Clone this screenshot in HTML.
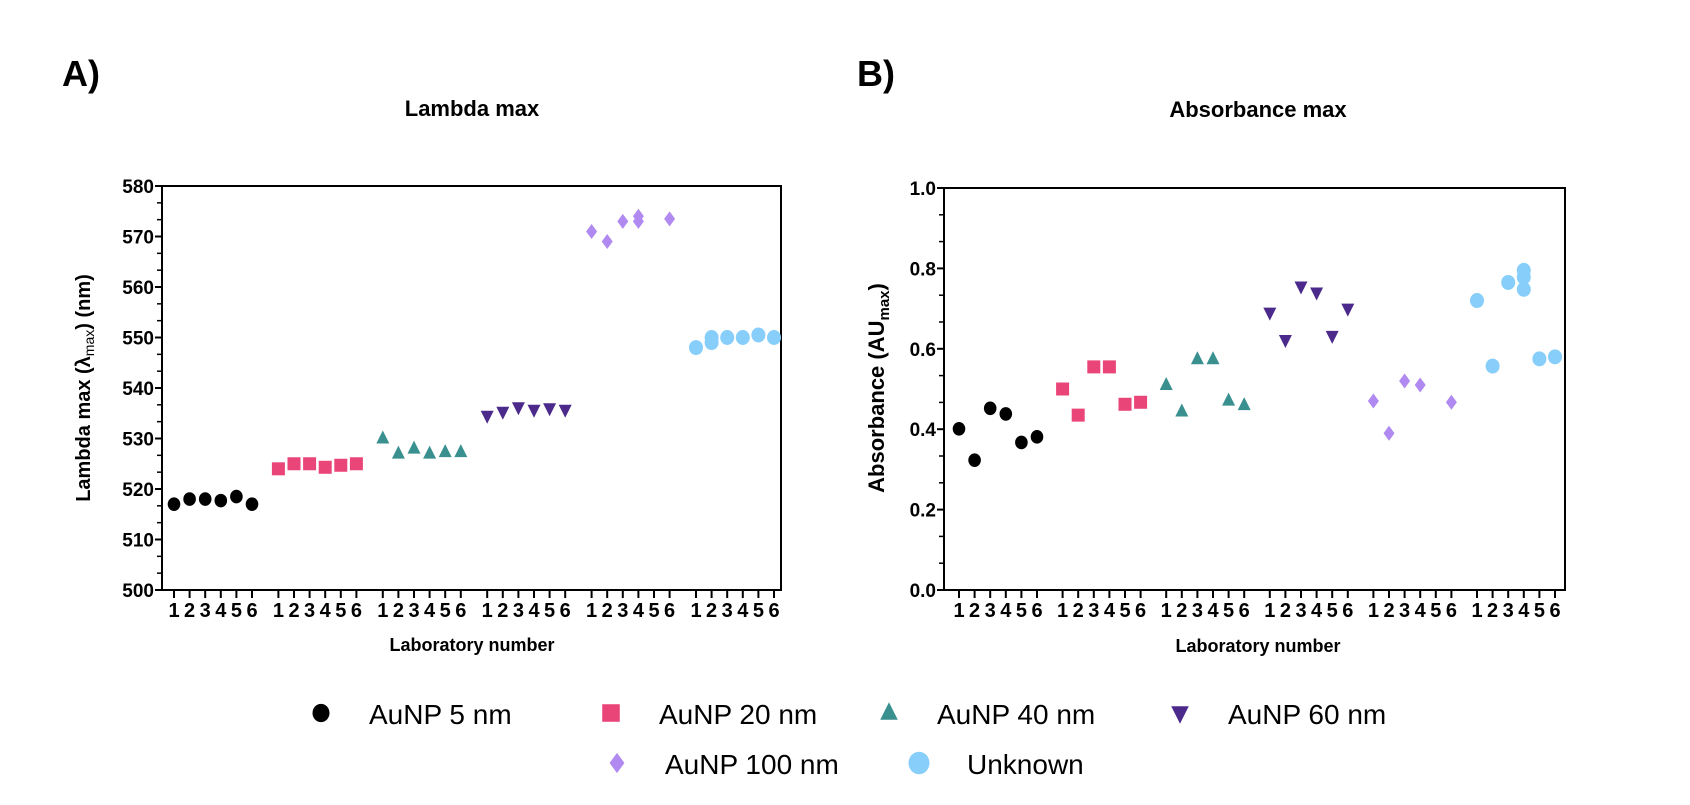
<!DOCTYPE html>
<html><head><meta charset="utf-8"><style>
html,body{margin:0;padding:0;background:#fff;}
svg{display:block;font-family:"Liberation Sans",Arial,sans-serif;}
</style></head><body>
<svg id="fig" width="1690" height="805" viewBox="0 0 1690 805">
<text x="62" y="86" font-size="36" font-weight="bold">A)</text>
<text x="857" y="86" font-size="36" font-weight="bold">B)</text>
<text x="472" y="116" font-size="22" font-weight="bold" text-anchor="middle">Lambda max</text>
<text x="1258" y="117" font-size="22" font-weight="bold" text-anchor="middle">Absorbance max</text>
<text x="472" y="651" font-size="18" font-weight="bold" text-anchor="middle">Laboratory number</text>
<text x="1258" y="652" font-size="18" font-weight="bold" text-anchor="middle">Laboratory number</text>
<text transform="translate(90,388) rotate(-90)" font-size="20" font-weight="bold" text-anchor="middle">Lambda max (λ<tspan font-size="14" font-weight="normal" dy="4">max</tspan><tspan dy="-4">) (nm)</tspan></text>
<text transform="translate(884,388) rotate(-90)" font-size="22" font-weight="bold" text-anchor="middle">Absorbance (AU<tspan font-size="15" dy="5">max</tspan><tspan dy="-5">)</tspan></text>
<g id="plots"></g>
<g id="legend"></g>
</svg>
<script>
const groups = ["AuNP 5 nm","AuNP 20 nm","AuNP 40 nm","AuNP 60 nm","AuNP 100 nm","Unknown"];
const labLabels = ["1","2","3","4","5","6"];
// lambda max values per group: [lab, value]
const lam5 = [[1,517],[2,518],[3,518],[4,517.7],[5,518.5],[6,517]];
const lam20 = [[1,524],[2,525],[3,525],[4,524.3],[5,524.7],[6,525]];
const lam40 = [[1,530],[2,527],[3,528],[4,527],[5,527.3],[6,527.3]];
const lam60 = [[1,534.5],[2,535.3],[3,536.2],[4,535.7],[5,536],[6,535.7]];
const lam100 = [[1,571],[2,569],[3,573],[4,574],[4,573],[6,573.5]];
const lamUnk = [[1,548],[2,550],[2,549],[3,550],[4,550],[5,550.5],[6,550]];
// absorbance values
const abs5 = [[1,0.401],[2,0.323],[3,0.452],[4,0.438],[5,0.367],[6,0.381]];
const abs20 = [[1,0.50],[2,0.435],[3,0.555],[4,0.555],[5,0.462],[6,0.467]];
const abs40 = [[1,0.51],[2,0.444],[3,0.574],[4,0.574],[5,0.471],[6,0.46]];
const abs60 = [[1,0.69],[2,0.622],[3,0.755],[4,0.74],[5,0.632],[6,0.70]];
const abs100 = [[1,0.47],[2,0.39],[3,0.52],[4,0.51],[6,0.467]];
const absUnk = [[1,0.72],[2,0.557],[3,0.765],[4,0.795],[4,0.778],[4,0.748],[5,0.575],[6,0.58]];
const lamTicks = [500,510,520,530,540,550,560,570,580];
const absTicks = [0.0,0.2,0.4,0.6,0.8,1.0];

const colors=["#000000","#ea4579","#3a8f8f","#4b2a8c","#b08af0","#87cefa"];
const shapes=["circle","square","triangle","invtri","diamond","bigcircle"];
const NS="http://www.w3.org/2000/svg";
function mk(tag,attrs,parent){const e=document.createElementNS(NS,tag);for(const k in attrs)e.setAttribute(k,attrs[k]);parent.appendChild(e);return e;}
function marker(parent,shape,x,y,c,s){
  let e;
  if(shape==="circle") e=mk("ellipse",{cx:x,cy:y,rx:6.3*s,ry:6.8*s,fill:c},parent);
  else if(shape==="bigcircle") e=mk("ellipse",{cx:x,cy:y,rx:7*s,ry:7.5*s,fill:c},parent);
  else if(shape==="square") e=mk("rect",{x:x-6.5*s,y:y-6.5*s,width:13*s,height:13*s,fill:c},parent);
  else if(shape==="triangle") e=mk("polygon",{points:`${x},${y-8*s} ${x+6.5*s},${y+5*s} ${x-6.5*s},${y+5*s}`,fill:c},parent);
  else if(shape==="invtri") e=mk("polygon",{points:`${x},${y+8*s} ${x+6.5*s},${y-5*s} ${x-6.5*s},${y-5*s}`,fill:c},parent);
  else e=mk("polygon",{points:`${x},${y-7.5*s} ${x+5.5*s},${y} ${x},${y+7.5*s} ${x-5.5*s},${y}`,fill:c},parent);
  return e;
}
const plots=document.getElementById("plots");
function chart(cfg){
  const g=mk("g",{},plots);
  
  
  const {L,R,T,B,min,max}=cfg;
  const ys=v=>B-(v-min)/(max-min)*(B-T);
  const xs=(gi,lab)=>cfg.x0+gi*cfg.gs+(lab-1)*cfg.ls;
  const frame=mk("rect",{x:L,y:T,width:R-L,height:B-T,fill:"none",stroke:"#000","stroke-width":2},g);
  
  
  const ticks=cfg.ticks;
  const step=ticks[1]-ticks[0];
  ticks.forEach((t,i)=>{
    const y=ys(t);
    mk("line",{x1:L-7,x2:L,y1:y,y2:y,stroke:"#000","stroke-width":2},g);
    const tx=mk("text",{x:L-8,y:y+7,"font-size":19,"font-weight":"bold","text-anchor":"end"},g);
    tx.textContent=cfg.fmt(t);
    
    
    if(i<ticks.length-1){for(let k=1;k<3;k++){const ym=ys(t+step*k/3);mk("line",{x1:L-5,x2:L,y1:ym,y2:ym,stroke:"#000","stroke-width":1.5},g);}}
  });
  groups.forEach((gn,gi)=>{
    labLabels.forEach((lb,li)=>{
      const x=xs(gi,li+1);
      mk("line",{x1:x,x2:x,y1:B,y2:B+8,stroke:"#000","stroke-width":2},g);
      const tx=mk("text",{x:x,y:B+27,"font-size":20,"font-weight":"bold","text-anchor":"middle"},g);
      tx.textContent=lb;
      
      
    });
  });
  cfg.series.forEach((ser,gi)=>{
    ser.forEach(([lab,v])=>{
      const m=marker(g,shapes[gi],xs(gi,lab),ys(v),colors[gi],1);
      
      
    });
  });
}
chart({name:"chart-lambda-max",L:162,R:781,T:186,B:590,min:500,max:580,ticks:lamTicks,fmt:t=>String(t),
  x0:174,gs:104.4,ls:15.6,series:[lam5,lam20,lam40,lam60,lam100,lamUnk]});
chart({name:"chart-absorbance-max",L:944,R:1565,T:188,B:590,min:0,max:1,ticks:absTicks,fmt:t=>t.toFixed(1),
  x0:959,gs:103.6,ls:15.6,series:[abs5,abs20,abs40,abs60,abs100,absUnk]});

const leg=document.getElementById("legend");
const legPos=[[321,715],[611,715],[889,715],[1180,715],[617,765],[919,765]];
groups.forEach((gn,i)=>{
  const [x,y]=legPos[i];
  const s = i===5?1.5:1.35;
  const m=marker(leg,shapes[i],x,y-2,colors[i],s);
  
  
  const t=mk("text",{x:x+48,y:y+9,"font-size":28},leg);
  t.textContent=gn;
  
  
});
</script>
</body></html>
